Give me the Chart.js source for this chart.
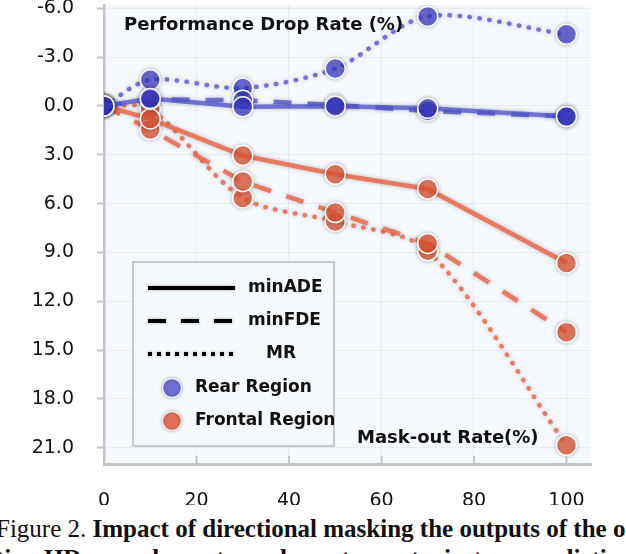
<!DOCTYPE html>
<html>
<head>
<meta charset="utf-8">
<script src="https://cdn.jsdelivr.net/npm/chart.js@4/dist/chart.umd.min.js"></script>
<style>
  html, body { margin: 0; padding: 0; background: #fff; overflow: hidden; }
  #wrap { position: relative; width: 626px; height: 554px; }
  #chartBox { position: absolute; left: 0; top: 0; width: 626px; height: 505px; }
  #caption {
    position: absolute; left: -4px; top: 514px; width: 700px;
    font-family: "Liberation Serif", "DejaVu Serif", serif; font-size: 25px;
    line-height: 30px; color: #111; white-space: nowrap;
  }
  #caption b { font-weight: bold; }
</style>
</head>
<body>
<div id="wrap">
  <div id="chartBox"><canvas id="dropChart"></canvas></div>
  <div id="caption">Figure 2. <b>Impact of directional masking the outputs of the o</b><br><b>tion HD map elements on downstream trajectory prediction. A</b></div>
</div>
<script>
// values (performance drop rate in %, y axis reversed)
const maskRates = [0, 10, 30, 50, 70, 100];
const rearADE  = [0, -0.45, 0.05, 0.02, 0.15, 0.65];
const rearFDE  = [0, -0.4, -0.35, -0.05, 0.3, 0.65];
const rearMR   = [0, -1.6, -1.1, -2.3, -5.5, -4.4];
const frontADE = [0, 0.8, 3.05, 4.2, 5.1, 9.65];
const frontFDE = [0, 1.45, 4.65, 6.55, 8.45, 13.9];
const frontMR  = [0, 0.2, 5.65, 7.1, 8.9, 20.85];
const xTicks = [0, 20, 40, 60, 80, 100];
const yTicks = [-6, -3, 0, 3, 6, 9, 12, 15, 18, 21];

const legendLines = ["minADE", "minFDE", "MR"];
const legendRegions = ["Rear Region", "Frontal Region"];

const BLUE_PT = "rgba(55,55,200,0.68)";
const BLUE_LN = "rgba(85,85,210,0.78)";
const ORANGE_PT = "rgba(228,88,52,0.74)";
const ORANGE_LN = "rgba(236,108,78,0.88)";
const FONT = "'DejaVu Sans', sans-serif";

function series(label, values, lineColor, pointColor, style) {
  const dash = style === "dash" ? [18, 16] : style === "dot" ? [0.5, 9.5] : [];
  return {
    label,
    data: maskRates.map((x, i) => ({ x, y: values[i] })),
    borderColor: lineColor,
    borderWidth: 4.5,
    borderDash: dash,
    borderCapStyle: style === "dot" ? "round" : "butt",
    tension: style === "dot" ? 0.3 : 0,
    pointRadius: 10,
    pointHoverRadius: 10,
    pointBackgroundColor: pointColor,
    pointBorderColor: "rgba(255,255,255,0.95)",
    pointBorderWidth: 1.5,
    fill: false
  };
}

function noPad(s) {
  s.paddingTop = 0;
  s.paddingBottom = 0;
  s.paddingLeft = 0;
  s.paddingRight = 0;
}

// shadows, background, legend box and in-plot labels
const decorations = {
  id: "decorations",
  beforeDraw(chart) {
    const { ctx, chartArea: a } = chart;
    ctx.save();
    ctx.fillStyle = "#f5f8fc";
    ctx.fillRect(a.left, a.top, a.right - a.left, a.bottom - a.top);
    ctx.restore();
  },
  beforeDatasetsDraw(chart) {
    const ctx = chart.ctx;
    ctx.save();
    ctx.shadowColor = "rgba(0,0,0,0.28)";
    ctx.shadowBlur = 4;
  },
  afterDatasetsDraw(chart) {
    chart.ctx.restore();
  },
  afterDraw(chart) {
    const { ctx, chartArea: a, scales } = chart;
    const xs = scales.x;
    ctx.save();
    // small inner tick marks on the x axis
    ctx.strokeStyle = "#c4c4c4";
    ctx.lineWidth = 2;
    xTicks.slice(1).forEach(v => {
      const px = xs.getPixelForValue(v);
      ctx.beginPath();
      ctx.moveTo(px, a.bottom);
      ctx.lineTo(px, a.bottom - 8);
      ctx.stroke();
    });

    ctx.fillStyle = "#111";
    ctx.textBaseline = "alphabetic";
    ctx.font = "bold 18px " + FONT;
    ctx.textAlign = "left";
    ctx.fillText("Performance Drop Rate (%)", 124, 30);
    ctx.fillText("Mask-out Rate(%)", 357, 443);

    // legend box
    const bx = 133, by = 262, bw = 201, bh = 184;
    ctx.fillStyle = "rgba(246,249,252,0.95)";
    ctx.fillRect(bx, by, bw, bh);
    ctx.strokeStyle = "#c8c8c8";
    ctx.lineWidth = 2;
    ctx.strokeRect(bx, by, bw, bh);

    ctx.shadowColor = "rgba(0,0,0,0.35)";
    ctx.shadowBlur = 3;
    const rows = [288, 321, 354];
    const dashes = [[], [18, 15], [4, 5]];
    ctx.strokeStyle = "#000";
    ctx.lineWidth = 4;
    legendLines.forEach((name, i) => {
      ctx.setLineDash(dashes[i]);
      ctx.beginPath();
      ctx.moveTo(148, rows[i]);
      ctx.lineTo(235, rows[i]);
      ctx.stroke();
    });
    ctx.setLineDash([]);
    ctx.shadowBlur = 0;
    ctx.fillStyle = "#111";
    ctx.font = "bold 17px " + FONT;
    ctx.textBaseline = "middle";
    ctx.fillText(legendLines[0], 248, rows[0]);
    ctx.fillText(legendLines[1], 248, rows[1]);
    ctx.textAlign = "center";
    ctx.fillText(legendLines[2], 281, rows[2]);

    const rRows = [388, 421];
    const rColors = ["rgba(110,110,210,1)", "rgba(225,110,85,1)"];
    ctx.textAlign = "left";
    legendRegions.forEach((name, i) => {
      ctx.shadowColor = "rgba(0,0,0,0.3)";
      ctx.shadowBlur = 3;
      ctx.beginPath();
      ctx.arc(172, rRows[i], 9.5, 0, Math.PI * 2);
      ctx.fillStyle = rColors[i];
      ctx.fill();
      ctx.strokeStyle = "#eee";
      ctx.lineWidth = 1.5;
      ctx.stroke();
      ctx.shadowBlur = 0;
      ctx.fillStyle = "#111";
      ctx.fillText(name, 195, rRows[i]);
    });
    ctx.restore();
  }
};

const ctx = document.getElementById("dropChart").getContext("2d");
new Chart(ctx, {
  type: "line",
  data: {
    datasets: [
      series("Rear minADE", rearADE, BLUE_LN, BLUE_PT, "solid"),
      series("Rear minFDE", rearFDE, BLUE_LN, BLUE_PT, "dash"),
      series("Rear MR", rearMR, BLUE_LN, BLUE_PT, "dot"),
      series("Frontal minADE", frontADE, ORANGE_LN, ORANGE_PT, "solid"),
      series("Frontal minFDE", frontFDE, ORANGE_LN, ORANGE_PT, "dash"),
      series("Frontal MR", frontMR, ORANGE_LN, ORANGE_PT, "dot")
    ]
  },
  options: {
    responsive: true,
    maintainAspectRatio: false,
    animation: false,
    layout: { autoPadding: false, padding: { top: 5, right: 35, left: 0, bottom: 0 } },
    plugins: {
      legend: { display: false },
      tooltip: { enabled: false }
    },
    scales: {
      x: {
        type: "linear",
        min: 0,
        max: 105.3,
        afterBuildTicks: s => { s.ticks = xTicks.map(v => ({ value: v })); },
        afterFit: s => { s.height = 41; noPad(s); },
        grid: { color: "rgba(0,0,0,0.05)", drawTicks: false },
        border: { color: "#c4c4c4", width: 3 },
        ticks: { padding: 26, color: "#111", font: { family: FONT, size: 19 }, maxRotation: 0 }
      },
      y: {
        type: "linear",
        reverse: true,
        min: -6.2,
        max: 22,
        afterBuildTicks: s => { s.ticks = yTicks.map(v => ({ value: v })); },
        afterFit: s => { s.width = 104; noPad(s); },
        grid: { color: "rgba(0,0,0,0.05)", tickColor: "#c4c4c4", tickLength: 7, tickWidth: 2 },
        border: { color: "#c4c4c4", width: 2.5 },
        ticks: {
          padding: 23, color: "#111", font: { family: FONT, size: 19 },
          callback: v => v.toFixed(1)
        }
      }
    }
  },
  plugins: [decorations]
});
</script>
</body>
</html>
